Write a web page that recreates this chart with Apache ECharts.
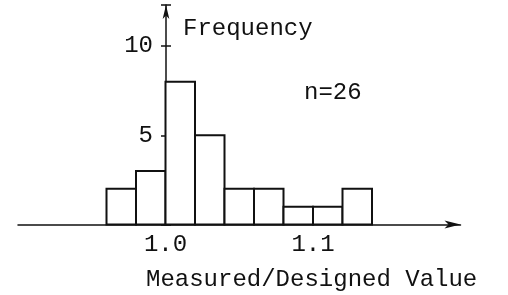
<!DOCTYPE html>
<html>
<head>
<meta charset="utf-8">
<script src="https://cdn.jsdelivr.net/npm/echarts@6/dist/echarts.min.js"></script>
<style>
  html, body { margin: 0; padding: 0; background: #fff; }
  #chart { width: 508px; height: 295px; }
</style>
</head>
<body>
<div id="chart"></div>
<script>
// histogram data
var binEdges = [0.96, 0.98, 1.00, 1.02, 1.04, 1.06, 1.08, 1.10, 1.12, 1.14];
var counts = [2, 3, 8, 5, 2, 2, 1, 1, 2];
var xTickLabels = ['1.0', '1.1'];
var yTickLabels = ['5', '10'];

var ink = '#111';
var font = '"Liberation Mono", "DejaVu Sans Mono", monospace';

var bins = [];
for (var i = 0; i < counts.length; i++) {
	bins.push([binEdges[i], binEdges[i + 1], counts[i]]);
}

var chart = echarts.init(document.getElementById('chart'));
chart.setOption({
	animation: false,
	grid: { left: 18, right: 47.5, top: 5, bottom: 70.5 },
	xAxis: {
		type: 'value',
		min: 0.9,
		max: 1.2,
		interval: 0.1,
		splitLine: { show: false },
		axisTick: { show: false },
		axisLine: {
			lineStyle: { color: ink, width: 1.5 },
			symbol: ['none', 'arrow'],
			symbolSize: [6, 16]
		},
		axisLabel: {
			margin: 8,
			color: ink,
			fontFamily: font,
			fontSize: 24,
			formatter: function (v) {
				var s = v.toFixed(1);
				return xTickLabels.indexOf(s) >= 0 ? s : '';
			}
		}
	},
	yAxis: [
		{
			type: 'value',
			min: 0,
			max: 12.3,
			interval: 5,
			position: 'left',
			offset: -148,
			splitLine: { show: false },
			axisTick: { show: true, length: 5, lineStyle: { color: ink, width: 1.5 } },
			axisLine: {
				show: true,
				onZero: false,
				lineStyle: { color: ink, width: 1.5 },
				symbol: ['none', 'arrow'],
				symbolSize: [5, 14]
			},
			axisLabel: {
				margin: 13,
				color: ink,
				fontFamily: font,
				fontSize: 24,
				formatter: function (v) {
					var s = String(v);
					return yTickLabels.indexOf(s) >= 0 ? s : '';
				}
			}
		},
		{
			// inner half of the cross ticks
			type: 'value',
			min: 0,
			max: 12.3,
			interval: 5,
			position: 'left',
			offset: -148,
			splitLine: { show: false },
			axisLine: { show: false, onZero: false },
			axisTick: { show: true, inside: true, length: 5, lineStyle: { color: ink, width: 1.5 } },
			axisLabel: { show: false }
		}
	],
	graphic: [
		{ type: 'text', left: 183, top: 17, style: { text: 'Frequency', fill: ink, font: '24px ' + font } },
		{ type: 'text', left: 304, top: 81, style: { text: 'n=26', fill: ink, font: '24px ' + font } },
		{ type: 'text', left: 146, top: 268, style: { text: 'Measured/Designed Value', fill: ink, font: '24px ' + font } }
	],
	series: [{
		type: 'custom',
		data: bins,
		renderItem: function (params, api) {
			var p0 = api.coord([api.value(0), api.value(2)]);
			var p1 = api.coord([api.value(1), 0]);
			return {
				type: 'rect',
				shape: { x: p0[0], y: p0[1], width: p1[0] - p0[0], height: p1[1] - p0[1] },
				style: { fill: '#fff', stroke: ink, lineWidth: 2 }
			};
		}
	}]
});
</script>
</body>
</html>
